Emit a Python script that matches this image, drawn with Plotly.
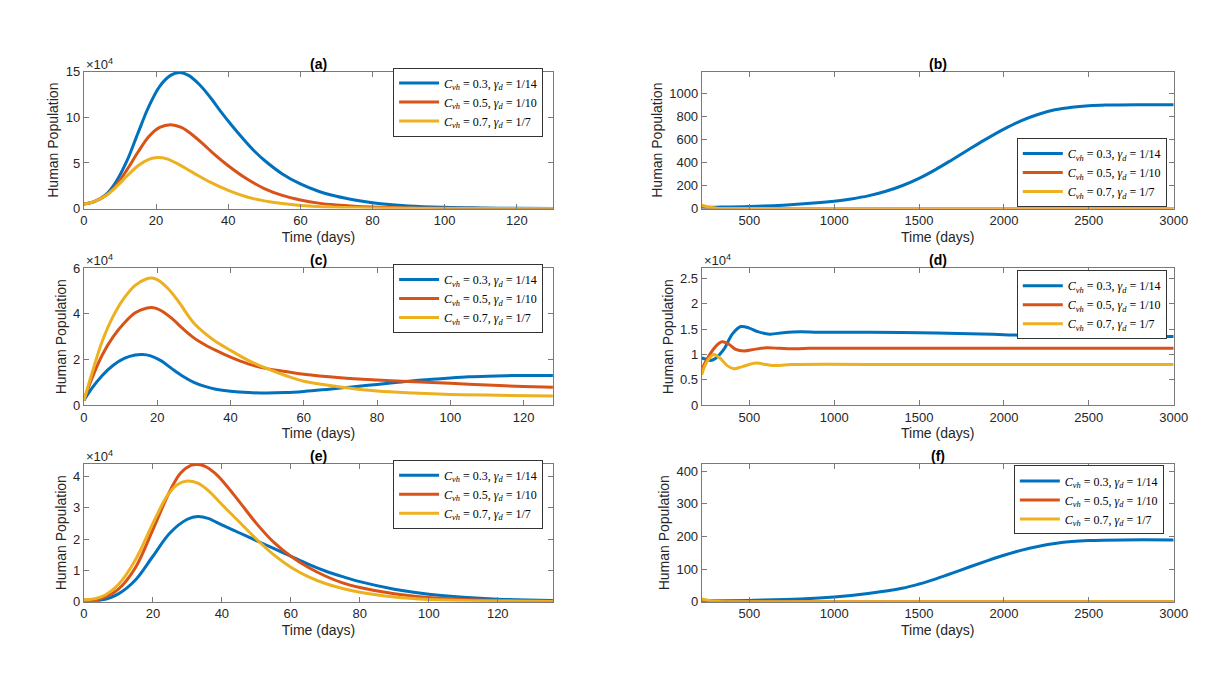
import plotly.graph_objs as go

# colors (MATLAB default order)
BLUE = "#0072BD"
ORANGE = "#D95319"
YELLOW = "#EDB120"
SCALE = 1e4

names = [
    "<i>C</i><sub><i>vh</i></sub> = 0.3, <i>γ</i><sub><i>d</i></sub> = 1/14",
    "<i>C</i><sub><i>vh</i></sub> = 0.5, <i>γ</i><sub><i>d</i></sub> = 1/10",
    "<i>C</i><sub><i>vh</i></sub> = 0.7, <i>γ</i><sub><i>d</i></sub> = 1/7",
]

# ---- panel (a) values in 1e4 ----
a_blue_t = [0, 3, 6, 9, 12, 15, 18, 21, 24, 26.5, 29, 32, 35, 38, 41, 44, 47, 50, 55, 60, 65, 70, 75, 80, 90, 100, 110, 120, 130]
a_blue_y = [0.5, 0.8, 1.5, 3.0, 5.3, 8.3, 11.2, 13.4, 14.6, 14.9, 14.6, 13.6, 12.2, 10.6, 9.1, 7.7, 6.4, 5.3, 3.8, 2.7, 1.9, 1.35, 0.95, 0.65, 0.3, 0.14, 0.07, 0.03, 0.02]
a_orange_t = [0, 3, 6, 9, 12, 15, 18, 21, 24, 27, 30, 33, 36, 40, 45, 50, 55, 60, 65, 70, 80, 90, 100, 130]
a_orange_y = [0.5, 0.8, 1.4, 2.6, 4.3, 6.2, 7.9, 8.9, 9.2, 8.9, 8.1, 7.1, 6.0, 4.7, 3.3, 2.2, 1.45, 0.95, 0.6, 0.4, 0.17, 0.07, 0.03, 0.01]
a_yellow_t = [0, 3, 6, 9, 12, 15, 18, 20.5, 23, 26, 30, 35, 40, 45, 50, 55, 60, 70, 80, 100, 130]
a_yellow_y = [0.5, 0.8, 1.4, 2.4, 3.6, 4.7, 5.4, 5.6, 5.45, 4.9, 4.0, 2.9, 2.0, 1.3, 0.85, 0.55, 0.35, 0.14, 0.06, 0.01, 0.0]

# ---- panel (b) ----
b_blue_t = [220, 300, 500, 700, 900, 1000, 1100, 1200, 1300, 1400, 1500, 1600, 1700, 1800, 1900, 2000, 2100, 2200, 2300, 2400, 2500, 2600, 2800, 3000]
b_blue_y = [10, 12, 18, 30, 50, 64, 84, 110, 148, 198, 262, 340, 428, 518, 606, 688, 760, 815, 855, 878, 891, 897, 900, 900]
b_orange_t = [220, 260, 320, 400, 1000, 3000]
b_orange_y = [15, 7, 1, 0, 0, 0]
b_yellow_t = [220, 260, 320, 400, 1000, 3000]
b_yellow_y = [30, 14, 2, 0, 0, 0]

# ---- panel (c) values in 1e4 ----
c_blue_t = [0, 2, 5, 8, 11, 14, 16, 18, 21, 24, 27, 30, 33, 36, 40, 45, 50, 55, 60, 65, 70, 75, 80, 85, 90, 95, 100, 105, 110, 115, 120, 128]
c_blue_y = [0.2, 0.7, 1.3, 1.75, 2.05, 2.2, 2.22, 2.17, 1.95, 1.6, 1.27, 1.0, 0.82, 0.7, 0.61, 0.55, 0.53, 0.55, 0.6, 0.67, 0.75, 0.83, 0.91, 0.99, 1.07, 1.13, 1.19, 1.24, 1.27, 1.29, 1.3, 1.3]
c_orange_t = [0, 2, 5, 8, 11, 14, 17, 19, 21, 24, 27, 30, 33, 36, 40, 45, 50, 55, 60, 70, 80, 90, 100, 110, 120, 128]
c_orange_y = [0.2, 1.1, 2.2, 3.0, 3.6, 4.05, 4.25, 4.27, 4.15, 3.8, 3.35, 2.95, 2.65, 2.4, 2.1, 1.8, 1.6, 1.47, 1.35, 1.2, 1.1, 1.02, 0.96, 0.88, 0.82, 0.78]
c_yellow_t = [0, 2, 5, 8, 11, 14, 17, 18.5, 20, 23, 26, 30, 35, 40, 45, 50, 55, 60, 70, 80, 90, 100, 110, 128]
c_yellow_y = [0.2, 1.3, 2.8, 3.9, 4.7, 5.25, 5.53, 5.57, 5.5, 5.1, 4.5, 3.6, 2.9, 2.4, 1.95, 1.6, 1.3, 1.05, 0.8, 0.62, 0.53, 0.47, 0.44, 0.4]

# ---- panel (d) values in 1e4 ----
d_blue_t = [220, 250, 270, 300, 350, 400, 450, 500, 550, 620, 700, 800, 900, 1000, 1200, 1500, 1800, 2000, 2200, 2500, 3000]
d_blue_y = [0.93, 0.9, 0.88, 0.92, 1.1, 1.4, 1.55, 1.52, 1.45, 1.4, 1.43, 1.45, 1.44, 1.44, 1.44, 1.43, 1.41, 1.39, 1.37, 1.36, 1.355]
d_orange_t = [220, 250, 300, 340, 380, 420, 470, 530, 600, 680, 750, 850, 1500, 3000]
d_orange_y = [0.7, 0.9, 1.15, 1.25, 1.2, 1.1, 1.07, 1.1, 1.13, 1.12, 1.11, 1.12, 1.12, 1.12]
d_yellow_t = [220, 250, 290, 330, 370, 410, 460, 540, 600, 650, 750, 1500, 3000]
d_yellow_y = [0.6, 0.85, 1.0, 0.92, 0.78, 0.72, 0.76, 0.83, 0.8, 0.78, 0.8, 0.8, 0.8]

# ---- panel (e) values in 1e4 ----
e_blue_t = [0, 5, 10, 15, 20, 25, 30, 33, 36, 40, 45, 50, 55, 60, 65, 70, 75, 80, 90, 100, 110, 120, 136]
e_blue_y = [0.0, 0.05, 0.25, 0.7, 1.45, 2.2, 2.63, 2.72, 2.66, 2.45, 2.2, 1.95, 1.7, 1.45, 1.2, 0.98, 0.8, 0.64, 0.4, 0.24, 0.14, 0.08, 0.04]
e_orange_t = [0, 5, 10, 15, 20, 25, 28, 31, 33, 35, 38, 41, 45, 50, 55, 60, 65, 70, 75, 80, 90, 100, 110, 120, 136]
e_orange_y = [0.05, 0.1, 0.4, 1.1, 2.3, 3.55, 4.1, 4.35, 4.38, 4.33, 4.1, 3.75, 3.2, 2.5, 1.9, 1.45, 1.1, 0.82, 0.6, 0.45, 0.25, 0.13, 0.07, 0.035, 0.01]
e_yellow_t = [0, 5, 10, 15, 20, 24, 27, 30, 33, 36, 40, 45, 50, 55, 60, 65, 70, 75, 80, 90, 100, 110, 136]
e_yellow_y = [0.05, 0.15, 0.55, 1.35, 2.5, 3.35, 3.73, 3.85, 3.78, 3.55, 3.1, 2.55, 2.0, 1.5, 1.1, 0.8, 0.58, 0.42, 0.3, 0.15, 0.07, 0.035, 0.01]

# ---- panel (f) ----
f_blue_t = [220, 500, 800, 1000, 1200, 1400, 1500, 1600, 1700, 1800, 1900, 2000, 2100, 2200, 2300, 2400, 2500, 2700, 3000]
f_blue_y = [2, 4, 8, 14, 25, 41, 54, 70, 88, 107, 125, 142, 157, 169, 178, 184, 187, 189, 189]
f_orange_t = [220, 260, 320, 400, 1000, 3000]
f_orange_y = [4, 2, 0.3, 0, 0, 0]
f_yellow_t = [220, 260, 320, 400, 1000, 3000]
f_yellow_y = [8, 4, 0.6, 0, 0, 0]

panels = [
    # label, curves, scale, xrange, yrange, ytick values, ytick text, legend (right px, y px, anchor)
    ("(a)", [(a_blue_t, a_blue_y), (a_orange_t, a_orange_y), (a_yellow_t, a_yellow_y)], SCALE,
     [0, 130], [0, 15e4], [0, 5e4, 10e4, 15e4], ["0", "5", "10", "15"], (539, 89, "middle")),
    ("(b)", [(b_blue_t, b_blue_y), (b_orange_t, b_orange_y), (b_yellow_t, b_yellow_y)], 1,
     [220, 3000], [0, 1185], [0, 200, 400, 600, 800, 1000], ["0", "200", "400", "600", "800", "1000"], (1172, 161, "middle")),
    ("(c)", [(c_blue_t, c_blue_y), (c_orange_t, c_orange_y), (c_yellow_t, c_yellow_y)], SCALE,
     [0, 128], [0, 6e4], [0, 2e4, 4e4, 6e4], ["0", "2", "4", "6"], (539, 290, "middle")),
    ("(d)", [(d_blue_t, d_blue_y), (d_orange_t, d_orange_y), (d_yellow_t, d_yellow_y)], SCALE,
     [220, 3000], [0, 2.7e4], [0, 0.5e4, 1e4, 1.5e4, 2e4, 2.5e4], ["0", "0.5", "1", "1.5", "2", "2.5"], (1172, 261, "top")),
    ("(e)", [(e_blue_t, e_blue_y), (e_orange_t, e_orange_y), (e_yellow_t, e_yellow_y)], SCALE,
     [0, 136], [0, 4.4e4], [0, 1e4, 2e4, 3e4, 4e4], ["0", "1", "2", "3", "4"], (539, 490, "middle")),
    ("(f)", [(f_blue_t, f_blue_y), (f_orange_t, f_orange_y), (f_yellow_t, f_yellow_y)], 1,
     [220, 3000], [0, 422], [0, 100, 200, 300, 400], ["0", "100", "200", "300", "400"], (1169, 496, "middle")),
]

W, H = 1226, 676
col_px = [(73, 549), (700, 1179)]
row_px = [(58, 198), (259, 399), (459, 600)]
colors = [BLUE, ORANGE, YELLOW]
axis_grey = "#7a7a7a"
text_col = "#262626"

fig = go.Figure()
layout = {}
annotations = []

for i, (label, curves, sc, xr, yr, ytv, ytt, leg) in enumerate(panels):
    row, col = i // 2, i % 2
    n = "" if i == 0 else str(i + 1)
    x0, x1 = col_px[col]
    y0, y1 = row_px[row]
    legend_name = "legend" if i == 0 else "legend" + str(i + 1)

    for k, (t, y) in enumerate(curves):
        fig.add_trace(go.Scatter(
            x=t, y=[v * sc for v in y],
            mode="lines", line=dict(color=colors[k], width=3, shape="spline", smoothing=1),
            name=names[k], xaxis="x" + n, yaxis="y" + n, legend=legend_name,
        ))

    if col == 0:
        xtv = [0, 20, 40, 60, 80, 100, 120]
    else:
        xtv = [500, 1000, 1500, 2000, 2500, 3000]

    common = dict(showline=True, linecolor=axis_grey, linewidth=1, mirror="ticks",
                  ticks="inside", ticklen=5, tickcolor=axis_grey, showgrid=False,
                  zeroline=False, tickfont=dict(size=13, color=text_col))
    layout["xaxis" + n] = dict(
        domain=[x0 / W, x1 / W], anchor="y" + n, range=xr, tickvals=xtv,
        title=dict(text="Time (days)", font=dict(size=14, color=text_col), standoff=4),
        **common)
    layout["yaxis" + n] = dict(
        domain=[1 - y1 / H, 1 - y0 / H], anchor="x" + n, range=yr, tickvals=ytv, ticktext=ytt,
        title=dict(text="Human Population", font=dict(size=14, color=text_col), standoff=3),
        **common)

    layout[legend_name] = dict(
        x=leg[0] / W, y=1 - leg[1] / H, xanchor="right", yanchor=leg[2],
        bgcolor="white", bordercolor="#333333", borderwidth=1,
        font=dict(family="Liberation Serif", size=12, color="black"),
        tracegroupgap=0, itemwidth=40,
    )

    annotations.append(dict(
        text="<b>" + label + "</b>", x=(x0 + x1) / 2 / W, y=1 - y0 / H,
        xref="paper", yref="paper", xanchor="center", yanchor="bottom",
        showarrow=False, font=dict(size=14, color="black"), yshift=-2,
    ))
    if sc != 1:
        annotations.append(dict(
            text="×10<sup>4</sup>", x=x0 / W, y=1 - y0 / H,
            xref="paper", yref="paper", xanchor="left", yanchor="bottom",
            showarrow=False, font=dict(size=13, color=text_col), yshift=-2,
        ))

fig.update_layout(
    width=W, height=H,
    margin=dict(l=0, r=0, t=0, b=0),
    paper_bgcolor="white", plot_bgcolor="white",
    font=dict(family="Liberation Sans", color=text_col),
    annotations=annotations,
    **layout,
)

fig.write_html("out.html")
